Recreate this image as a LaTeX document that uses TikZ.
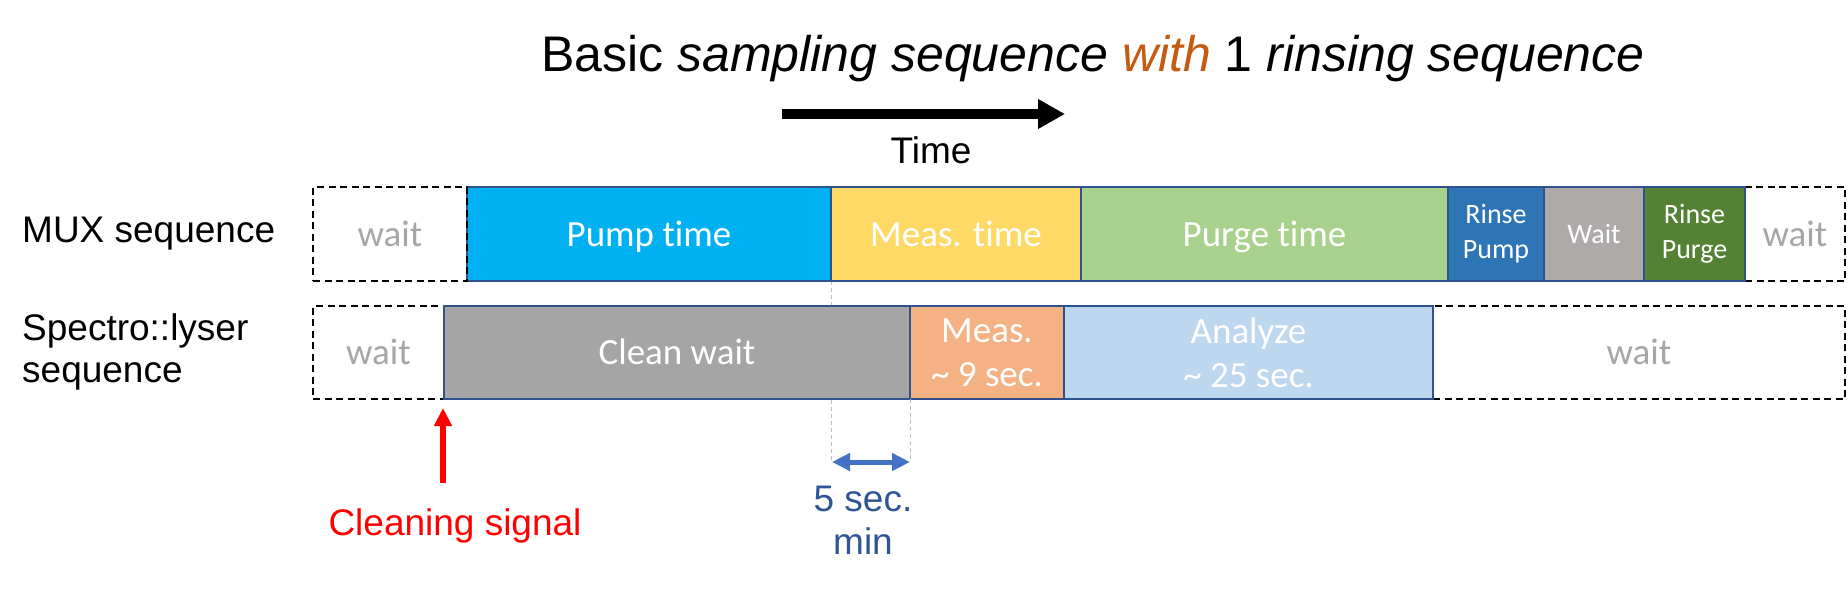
\documentclass[tikz,border=0pt]{standalone}
\usepackage{fontspec}
\setmainfont{Liberation Sans}
\newfontfamily\boxfont{Carlito}[Ligatures=NoCommon]
\usetikzlibrary{arrows.meta}
\definecolor{pumpc}{HTML}{00B0F0}
\definecolor{measc}{HTML}{FFD966}
\definecolor{purgec}{HTML}{A9D18E}
\definecolor{rpumpc}{HTML}{2E75B6}
\definecolor{rwaitc}{HTML}{AEAAAA}
\definecolor{rpurgec}{HTML}{548235}
\definecolor{cleanc}{HTML}{A5A5A5}
\definecolor{smeasc}{HTML}{F4B183}
\definecolor{analyzec}{HTML}{BDD7EE}
\definecolor{segline}{HTML}{2F528F}
\definecolor{waitgray}{HTML}{A6A6A6}
\definecolor{withc}{HTML}{C55A11}
\definecolor{fivec}{HTML}{2F5597}
\definecolor{dblc}{HTML}{4472C4}
\definecolor{guidec}{HTML}{BFBFBF}
\begin{document}
\begin{tikzpicture}[x=1pt,y=-1pt,
  seg/.style={draw=segline, line width=2pt, inner sep=0pt, outer sep=0pt,
    text=white, font=\boxfont\fontsize{37}{44}\selectfont, align=center},
  waitbox/.style={draw=black, line width=2pt, dash pattern=on 7pt off 4.5pt,
    inner sep=0pt, outer sep=0pt, text=waitgray,
    font=\boxfont\fontsize{37}{44}\selectfont, text height=24pt, text depth=0pt},
  oneline/.style={text height=24pt, text depth=0pt},
  small/.style={font=\boxfont\fontsize{28}{35}\selectfont},
  rowa/.style={minimum height=94pt},
  rowb/.style={minimum height=93pt},
  lbl/.style={font=\fontsize{37}{42}\selectfont, inner sep=0pt},
  guide/.style={draw=guidec, line width=1pt, dash pattern=on 4pt off 3pt},
  timearrow/.style={line width=10pt, -{Triangle[length=27pt,width=28pt]}},
  redarrow/.style={draw=red, line width=5.5pt, -{Triangle[length=18pt,width=17pt]}},
  dblarrow/.style={draw=dblc, line width=5pt, {Triangle[length=18pt,width=17pt]}-{Triangle[length=18pt,width=17pt]}}
]
\useasboundingbox (0,0) rectangle (1847,589);

% title and time
\node[anchor=base, inner sep=0pt, font=\fontsize{50}{60}\selectfont] (title) at (1093,71)
  {Basic \textit{sampling sequence} \textcolor{withc}{\textit{with}} 1 \textit{rinsing sequence}};
\coordinate (t0) at (782,114);
\coordinate (t1) at (1065,114);
\draw[timearrow] (t0) -- (t1);
\node[lbl, anchor=base, font=\fontsize{37}{44}\selectfont] (time) at (931,163) {Time};

% row labels
\node[lbl, anchor=base west] (muxlbl) at (22,242) {MUX sequence};
\node[lbl, anchor=north west, align=left] (speclbl) at (22,313.5) {Spectro::lyser\\sequence};

% dashed wait boxes (behind)
\node[waitbox, rowa, minimum width=100pt] (mw2) at (1795,234) {wait};
\node[waitbox, rowb, minimum width=131pt] (sw1) at (378.5,352.5) {wait};
\node[waitbox, rowb, minimum width=412pt] (sw2) at (1639,352.5) {wait};

% MUX row
\node[seg, rowa, oneline, fill=pumpc, minimum width=364pt] (pump) at (649,234) {Pump time};
\draw[guide] (pump.south east) -- ++(0,181) coordinate (a1);
\node[seg, rowa, oneline, fill=measc, minimum width=250pt] (meast) at (956,234) {Meas. time};
\node[seg, rowa, oneline, fill=purgec, minimum width=367pt] (purge) at (1264.5,234) {Purge time};
\node[seg, rowa, small, fill=rpumpc, minimum width=96pt] (rpump) at (1496,234) {Rinse\\Pump};
\node[seg, rowa, small, oneline, text height=18pt, fill=rwaitc, minimum width=100pt] (rwait) at (1594,234) {Wait};
\node[seg, rowa, small, fill=rpurgec, minimum width=101pt] (rpurge) at (1694.5,234) {Rinse\\Purge};
\node[waitbox, rowa, minimum width=154pt] (mw1) at (390,234) {wait};

% Spectro row
\node[seg, rowb, oneline, fill=cleanc, minimum width=466pt] (clean) at (677,352.5) {Clean wait};
\node[seg, rowb, fill=smeasc, minimum width=154pt] (smeas) at (987,352.5) {Meas.\\\~{} 9 sec.};
\node[seg, rowb, fill=analyzec, minimum width=369pt] (analyze) at (1248.5,352.5) {Analyze\\\~{} 25 sec.};

% 5 sec min
\draw[guide] (clean.south east) -- (clean.south east |- a1) coordinate (a2);
\draw[dblarrow] ([xshift=1pt]a1) -- (a2);
\node[lbl, anchor=north, align=center, text=fivec, font=\fontsize{37}{43}\selectfont] (five) at (863,485.5) {5 sec.\\min};

% cleaning signal
\coordinate (cs) at (443,483);
\draw[redarrow] (cs) -- ([xshift=-1pt,yshift=-9pt]clean.south west);
\node[lbl, anchor=base, text=red] (cleaning) at (455,535) {Cleaning signal};
\end{tikzpicture}
\end{document}
